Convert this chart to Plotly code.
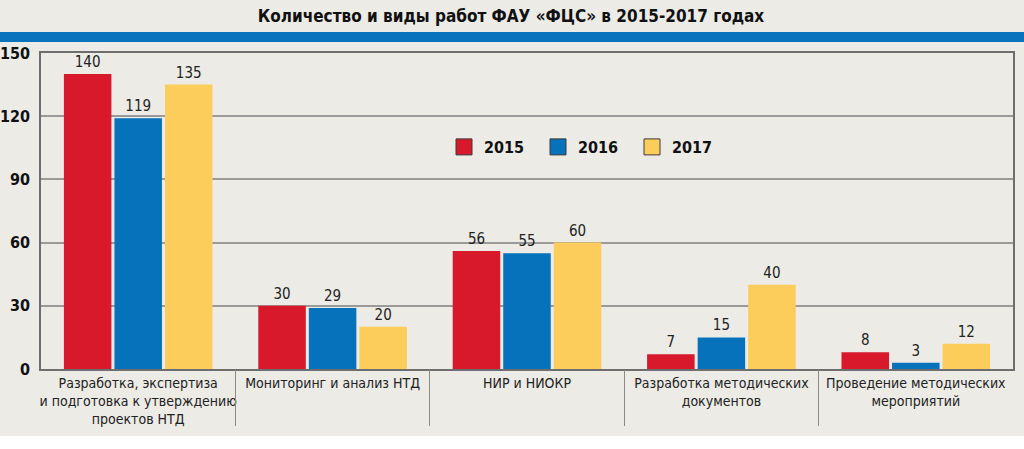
import plotly.graph_objects as go

categories = [
    "Разработка, экспертиза<br>и подготовка к утверждению<br>проектов НТД",
    "Мониторинг и анализ НТД",
    "НИР и НИОКР",
    "Разработка методических<br>документов",
    "Проведение методических<br>мероприятий",
]
years = ["2015", "2016", "2017"]
values_2015 = [140, 30, 56, 7, 8]
values_2016 = [119, 29, 55, 15, 3]
values_2017 = [135, 20, 60, 40, 12]
y_ticks = [0, 30, 60, 90, 120, 150]
separators = [0.5, 1.5, 2.5, 3.5]

colors = ["#d8192c", "#0672bb", "#fdcd5c"]
series = [values_2015, values_2016, values_2017]

NARROW = "DejaVu Sans Condensed, Liberation Sans Narrow, Arial Narrow, sans-serif"
BG = "#ecebe6"

fig = go.Figure()
for name, vals, col in zip(years, series, colors):
    fig.add_trace(go.Bar(
        x=categories, y=vals, name=name, marker=dict(color=col, line=dict(width=0)),
        text=[str(v) for v in vals], textposition="outside",
        textfont=dict(family=NARROW, size=15, color="#222"),
        cliponaxis=False, showlegend=False,
    ))
    fig.add_trace(go.Scatter(
        x=[None], y=[None], mode="markers", name=name,
        marker=dict(symbol="square", size=16, color=col, line=dict(color="#3a3a3a", width=1)),
        showlegend=True,
    ))

# invisible helper for separator axis
fig.add_trace(go.Scatter(x=separators, y=[None] * len(separators), xaxis="x2",
                         mode="markers", showlegend=False, hoverinfo="skip"))

fig.update_layout(
    width=1024, height=449,
    margin=dict(l=41, r=11, t=53, b=80),
    paper_bgcolor=BG, plot_bgcolor=BG,
    barmode="group", bargap=0.22, bargroupgap=0.06,
    title=dict(text="<b>Количество и виды работ ФАУ «ФЦС» в 2015-2017 годах</b>",
               x=(511 - 41) / 972, xanchor="center", xref="paper", y=1 - 16 / 449, yanchor="middle",
               font=dict(family=NARROW, size=17, color="#111")),
    legend=dict(orientation="h", x=(444 - 41) / 972, xanchor="left",
                y=(369 - 147) / 316, yanchor="middle", entrywidth=49,
                bgcolor="rgba(0,0,0,0)",
                font=dict(family=NARROW, size=16, color="#111", weight="bold")),
    xaxis=dict(type="category", showgrid=False, showline=True, linecolor="#6e6e6e",
               linewidth=1.5, mirror=True, ticks="", tickangle=0, automargin=False,
               tickfont=dict(family=NARROW, size=14, color="#222")),
    xaxis2=dict(overlaying="x", range=[-0.5, 4.5], tickvals=separators, showticklabels=False,
                ticks="outside", ticklen=56, tickwidth=1, tickcolor="#8a8a8a", automargin=False,
                showgrid=False, showline=False, zeroline=False, anchor="y", side="bottom"),
    yaxis=dict(range=[0, 150], tickvals=y_ticks, showgrid=True, gridcolor="#9a9a98",
               gridwidth=1.5, showline=True, linecolor="#6e6e6e", linewidth=1.5, mirror=True,
               zeroline=False, ticks="", ticklabelstandoff=6, automargin=False,
               tickfont=dict(family=NARROW, size=16, color="#111", weight="bold")),
    shapes=[
        dict(type="rect", xref="paper", yref="paper", x0=-41 / 972, x1=1 + 11 / 972,
             y0=(369 - 42) / 316, y1=(369 - 32) / 316, fillcolor="#0a73bd", line=dict(width=0),
             layer="above"),
        dict(type="rect", xref="paper", yref="paper", x0=-41 / 972, x1=1 + 11 / 972,
             y0=(369 - 449) / 316, y1=(369 - 436) / 316, fillcolor="#ffffff", line=dict(width=0),
             layer="below"),
    ],
)

fig.write_html("out.html", config={"displayModeBar": False},
               post_script="document.body.style.margin='0';")
